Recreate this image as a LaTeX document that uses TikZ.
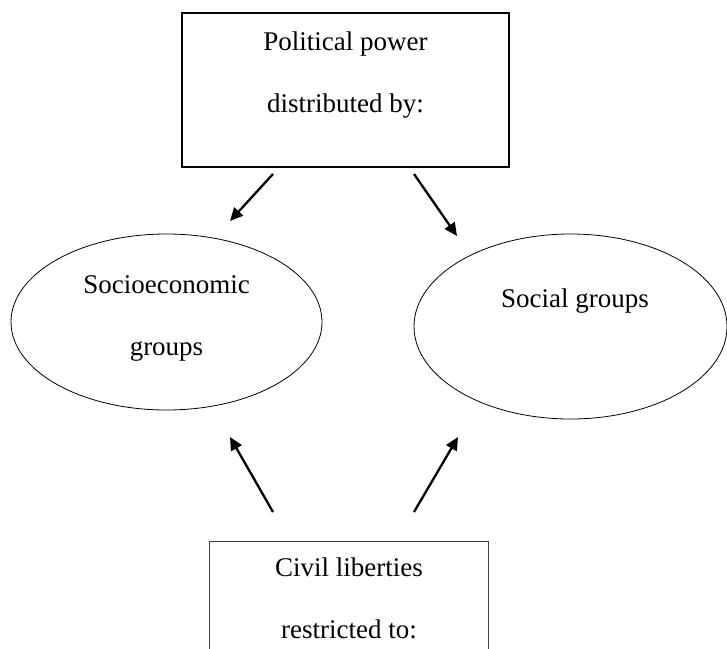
\documentclass[tikz,border=0pt]{standalone}
\usepackage{fontspec}
\setmainfont{Liberation Serif}
\usetikzlibrary{shapes.geometric,arrows.meta}
\tikzset{
  boxshape/.style={draw, line width=1.2pt, rectangle, inner sep=0pt},
  ovalshape/.style={draw, line width=0.8pt, ellipse, inner sep=0pt},
  lbl/.style={anchor=base, inner sep=0pt, font=\fontsize{27}{30}\selectfont},
  conn/.style={line width=2.3pt, -{Triangle[length=13pt,width=12pt]}}
}
\begin{document}
\begin{tikzpicture}[x=1pt,y=-1pt]
\useasboundingbox (0,0) rectangle (727,648);
\clip (0,0) rectangle (727,648);
% top box
\node[boxshape, minimum width=327pt, minimum height=154pt] (top) at (345.5,90) {};
\node[lbl] (t1) at (345.5,50) {Political power};
\node[lbl] (t2) at (345.5,112) {distributed by:};
% ellipses
\node[ovalshape, minimum width=311pt, minimum height=176pt] (left) at (166.5,322) {};
\node[lbl] (l1) at (166.5,293) {Socioeconomic};
\node[lbl] (l2) at (166.5,355) {groups};
\node[ovalshape, minimum width=313pt, minimum height=185pt] (right) at (570.5,326.5) {};
\node[lbl] (r1) at (575,307) {Social groups};
% bottom box
\node[boxshape, line width=1pt, draw=black!75, minimum width=279pt, minimum height=159pt] (bot) at (348.5,620.5) {};
\node[lbl] (b1) at (349,576) {Civil liberties};
\node[lbl] (b2) at (349,638) {restricted to:};
% arrow endpoints
\coordinate (a1s) at (273,174); \coordinate (a1e) at (230,221);
\coordinate (a2s) at (414,174); \coordinate (a2e) at (457,236);
\coordinate (a3s) at (273,512); \coordinate (a3e) at (230,437);
\coordinate (a4s) at (414,512); \coordinate (a4e) at (458,437);
\draw[conn] (a1s) -- (a1e);
\draw[conn] (a2s) -- (a2e);
\draw[conn] (a3s) -- (a3e);
\draw[conn] (a4s) -- (a4e);
\end{tikzpicture}
\end{document}
